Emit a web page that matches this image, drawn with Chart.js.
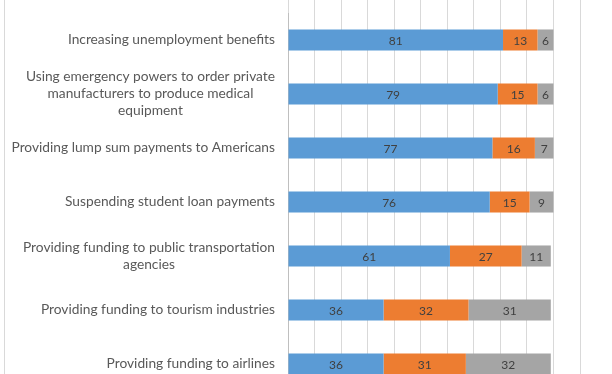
<!DOCTYPE html>
<html>
<head>
<meta charset="utf-8">
<script src="https://cdn.jsdelivr.net/npm/chart.js@4.4.0/dist/chart.umd.min.js"></script>
<style>
  html, body { margin: 0; padding: 0; background: #fff; }
  #wrap { position: relative; width: 612px; height: 374px; overflow: hidden; }
  #frame { position: absolute; left: 4px; top: 0; width: 1px; height: 374px; background: #d9d9d9; }
  #chart { position: absolute; left: 0; top: 0; }
</style>
</head>
<body>
<div id="wrap">
  <div id="frame"></div>
  <canvas id="chart" width="612" height="400"></canvas>
</div>
<script>
// ============================
// DATA
// ============================
const categories = [
  ["Increasing unemployment benefits"],
  ["Using emergency powers to order private", "manufacturers to produce medical", "equipment"],
  ["Providing lump sum payments to Americans"],
  ["Suspending student loan payments"],
  ["Providing funding to public transportation", "agencies"],
  ["Providing funding to tourism industries"],
  ["Providing funding to airlines"]
];
const supportValues = [81, 79, 77, 76, 61, 36, 36];
const opposeValues = [13, 15, 16, 15, 27, 32, 31];
const unsureValues = [6, 6, 7, 9, 11, 31, 32];
const xMax = 110;
const xStep = 10;

const labelFont = "13.75px Lato";
const valueFont = "12px Lato";

// ============================
// PLUGINS - category labels + values in segments
// ============================
const categoryLabels = {
  id: "categoryLabels",
  afterDraw(chart) {
    const ctx = chart.ctx;
    const y = chart.scales.y;
    const right = chart.chartArea.left - 13;
    const lineH = 17;
    ctx.save();
    ctx.font = labelFont;
    ctx.fillStyle = "#595959";
    ctx.textAlign = "center";
    ctx.textBaseline = "middle";
    categories.forEach((lines, i) => {
      const maxW = Math.max(...lines.map(l => ctx.measureText(l).width));
      const cx = right - maxW / 2;
      const cy = y.getPixelForValue(i);
      const top = cy - (lines.length - 1) * lineH / 2;
      lines.forEach((l, j) => ctx.fillText(l, cx, top + j * lineH));
    });
    ctx.restore();
  }
};

const segmentValues = {
  id: "segmentValues",
  afterDatasetsDraw(chart) {
    const ctx = chart.ctx;
    ctx.save();
    ctx.font = valueFont;
    ctx.fillStyle = "#404040";
    ctx.textAlign = "center";
    ctx.textBaseline = "middle";
    chart.data.datasets.forEach((ds, di) => {
      chart.getDatasetMeta(di).data.forEach((bar, i) => {
        const x = (bar.x + bar.base) / 2;
        ctx.fillText(String(ds.data[i]), x, bar.y + 1);
      });
    });
    ctx.restore();
  }
};

// ============================
// CHART
// ============================
new Chart(document.getElementById("chart").getContext("2d"), {
  type: "bar",
  data: {
    labels: categories,
    datasets: [
      { label: "Support", data: supportValues, backgroundColor: "#5b9bd5" },
      { label: "Oppose", data: opposeValues, backgroundColor: "#ed7d31" },
      { label: "Not sure", data: unsureValues, backgroundColor: "#a5a5a5" }
    ]
  },
  options: {
    indexAxis: "y",
    responsive: false,
    animation: false,
    devicePixelRatio: 1,
    layout: { padding: { top: 0, bottom: 9, left: 0, right: 32 } },
    datasets: { bar: { categoryPercentage: 1, barPercentage: 0.39 } },
    plugins: { legend: { display: false }, tooltip: { enabled: false } },
    scales: {
      x: {
        position: "top",
        stacked: true,
        min: 0,
        max: xMax,
        ticks: { display: false, stepSize: xStep },
        grid: { color: "#d9d9d9", drawTicks: true, tickLength: 13 },
        border: { display: false }
      },
      y: {
        stacked: true,
        ticks: { display: false },
        grid: { display: false },
        border: { display: true, color: "#bfbfbf" },
        afterFit(scale) { scale.width = 288; }
      }
    }
  },
  plugins: [categoryLabels, segmentValues]
});
</script>
</body>
</html>
